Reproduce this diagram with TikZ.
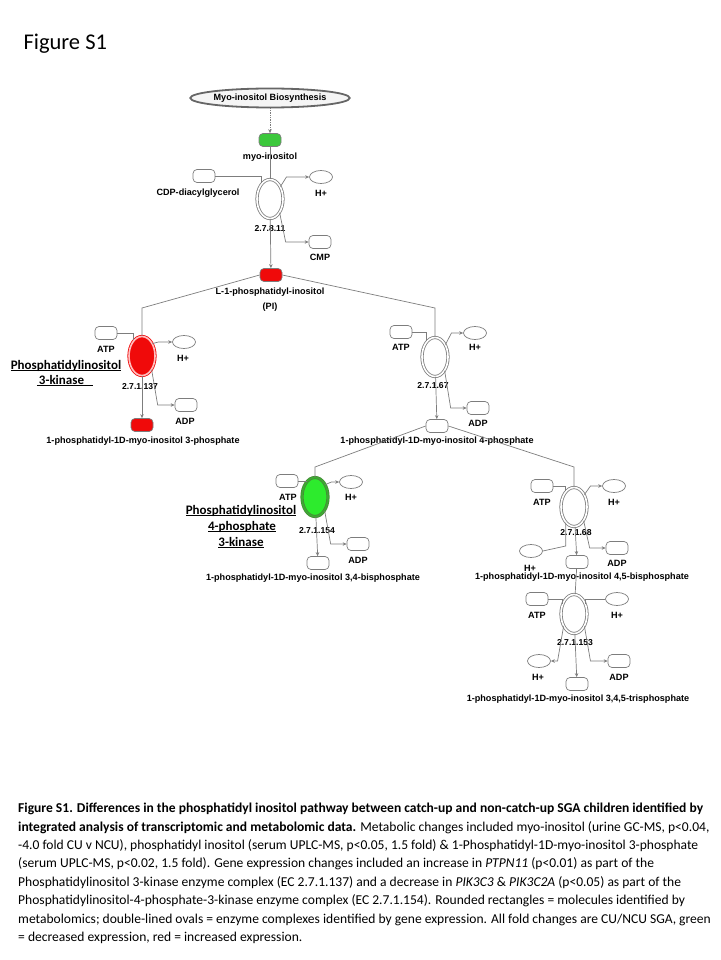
\documentclass[tikz,border=0pt]{standalone}
\usepackage{fontspec}
\setmainfont{Carlito}
\newfontfamily\arialfont{Liberation Sans}
\usetikzlibrary{shapes.geometric}
\usetikzlibrary{arrows.meta}
\definecolor{linegray}{RGB}{125,125,125}
\definecolor{molgreen}{RGB}{60,200,60}
\definecolor{molred}{RGB}{240,10,10}
\definecolor{enzgreen}{RGB}{45,235,45}
\definecolor{enzgreenring}{RGB}{70,140,55}
\tikzset{mol/.style={draw=linegray, fill=white, rectangle, rounded corners=4pt,
           minimum width=22pt, minimum height=13pt, inner sep=0pt, line width=0.7pt},
         ion/.style={draw=linegray, fill=white, ellipse,
           minimum width=23pt, minimum height=13pt, inner sep=0pt, line width=0.7pt},
         enz/.style={draw=linegray, double=white, double distance=1.6pt, ellipse,
           minimum width=26pt, minimum height=39pt, inner sep=0pt, line width=0.8pt},
         bio/.style={draw=black!60, line width=1.8pt, fill=gray!8, ellipse,
           minimum width=122pt, minimum height=19pt, inner sep=0pt,
           font=\arialfont\bfseries\fontsize{9.1}{11}\selectfont},
         lbl/.style={font=\arialfont\bfseries\fontsize{9.1}{11}\selectfont, inner sep=0pt},
         ec/.style={font=\arialfont\bfseries\fontsize{8.6}{10}\selectfont, inner sep=0pt},
         kin/.style={font=\bfseries\fontsize{13}{16}\selectfont, inner sep=0pt, anchor=base},
         conn/.style={draw=linegray, line width=0.7pt},
         arr/.style={conn, -{Stealth[length=4pt, width=3.5pt]}},
         every edge/.style={draw, arr} }

\begin{document}
\begin{tikzpicture}[x=1pt, y=-1pt]
    \useasboundingbox (0,0) rectangle (720,960);
    \node[anchor=base west, font=\fontsize{22.5}{27}\selectfont] (title) at (20,50) {Figure S1};

    \node[bio] (bio) at (270,98) {Myo-inositol Biosynthesis};
    \node[mol, fill=molgreen] (myo) at (270,140) {};
    \node[lbl] (myoL) at (270,157) {myo-inositol};
    \node[enz] (e1) at (270,199) {};
    \node[ec] (e1L) at (270,229) {2.7.8.11};
    \node[mol] (cdp) at (204,176) {};
    \node[lbl] (cdpL) at (198,193) {CDP-diacylglycerol};
    \node[ion] (h1) at (321,177) {};
    \node[lbl] (h1L) at (321,193) {H+};
    \node[mol] (cmp) at (320,242) {};
    \node[lbl] (cmpL) at (320,257) {CMP};
    \node[mol, fill=molred] (pi) at (271,275) {};
    \node[lbl] (piL) at (270,292) {L-1-phosphatidyl-inositol};
    \node[lbl] (piL2) at (270,307) {(PI)};
    \coordinate (kL) at (142,308);
    \coordinate (kR) at (435,308);

    \node[enz, draw=molred, double=red!25, fill=molred] (e2) at (142,356) {};
    \node[mol] (atp2) at (106,333) {};
    \node[lbl] (atp2L) at (106,349) {ATP};
    \node[ion] (h2) at (184,342) {};
    \node[lbl] (h2L) at (183,358) {H+};
    \node[ec] (e2L) at (140,387) {2.7.1.137};
    \node[mol] (adp2) at (186,405) {};
    \node[lbl] (adp2L) at (185,421) {ADP};
    \node[mol, fill=molred] (p3) at (142,425) {};
    \node[lbl] (p3L) at (143,441) {1-phosphatidyl-1D-myo-inositol 3-phosphate};
    \node[kin] (kin1a) at (66,369) {\underline{\smash{Phosphatidylinositol}}};
    \node[kin] (kin1b) at (65,384) {\underline{\smash{\kern2pt 3-kinase\kern9pt}}};

    \node[enz] (e3) at (435,357) {};
    \node[mol] (atp3) at (401,332) {};
    \node[lbl] (atp3L) at (401,347) {ATP};
    \node[ion] (h3) at (475,333) {};
    \node[lbl] (h3L) at (475,347) {H+};
    \node[ec] (e3L) at (433,386) {2.7.1.67};
    \node[mol] (adp3) at (478,408) {};
    \node[lbl] (adp3L) at (478,423) {ADP};
    \node[mol] (p4) at (437,426) {};
    \node[lbl] (p4L) at (437,441) {1-phosphatidyl-1D-myo-inositol 4-phosphate};
    \coordinate (k4L) at (315,467);
    \coordinate (k4R) at (574,467);

    \node[enz, draw=enzgreenring, double=enzgreenring!70!enzgreen, fill=enzgreen] (e4) at (315,497) {};
    \node[mol] (atp4) at (287,481) {};
    \node[lbl] (atp4L) at (288,497) {ATP};
    \node[ion] (h4) at (351,482) {};
    \node[lbl] (h4L) at (351,497) {H+};
    \node[ec] (e4L) at (317,531) {2.7.1.154};
    \node[mol] (adp4) at (358,544) {};
    \node[lbl] (adp4L) at (358,560) {ADP};
    \node[mol] (p34) at (318,563) {};
    \node[lbl] (p34L) at (313,578) {1-phosphatidyl-1D-myo-inositol 3,4-bisphosphate};
    \node[kin] (kin2a) at (241,514) {\underline{\smash{Phosphatidylinositol}}};
    \node[kin] (kin2b) at (242,530) {\underline{\smash{4-phosphate}}};
    \node[kin] (kin2c) at (241,546) {\underline{\smash{3-kinase}}};

    \node[enz] (e5) at (574,507) {};
    \node[mol] (atp5) at (542,486) {};
    \node[lbl] (atp5L) at (542,502) {ATP};
    \node[ion] (h5) at (614,486) {};
    \node[lbl] (h5L) at (614,502) {H+};
    \node[ec] (e5L) at (576,533) {2.7.1.68};
    \node[ion] (h5b) at (531,551) {};
    \node[lbl] (h5bL) at (530,568) {H+};
    \node[mol] (adp5) at (617,548) {};
    \node[lbl] (adp5L) at (617,563) {ADP};
    \node[mol] (p45) at (577,562) {};
    \node[lbl] (p45L) at (582,577) {1-phosphatidyl-1D-myo-inositol 4,5-bisphosphate};

    \node[enz] (e6) at (574,614) {};
    \node[mol] (atp6) at (537,599) {};
    \node[lbl] (atp6L) at (537,615) {ATP};
    \node[ion] (h6) at (617,599) {};
    \node[lbl] (h6L) at (617,615) {H+};
    \node[ec] (e6L) at (575,643) {2.7.1.153};
    \node[ion] (h6b) at (539,661) {};
    \node[lbl] (h6bL) at (538,677) {H+};
    \node[mol] (adp6) at (619,661) {};
    \node[lbl] (adp6L) at (619,677) {ADP};
    \node[mol] (p345) at (577,684) {};
    \node[lbl] (p345L) at (578,699) {1-phosphatidyl-1D-myo-inositol 3,4,5-trisphosphate};

    \draw[arr, densely dotted] (bio) -- (myo);
    \draw[conn] (myo) -- (e1);
    \draw (e1) edge (pi);
    \draw[conn] (cdp.east) -| (e1.118);
    \draw[arr] (e1.50) -- ([xshift=6pt]e1.50 |- h1.west) -- (h1.west);
    \draw[arr] (e1.-55) -- ([xshift=6pt]e1.-55 |- cmp.west) -- (cmp.west);
    \draw[conn] (pi.west) -- (kL) -- (e2);
    \draw[conn] (pi.east) -- (kR) -- (e3);

    \draw[conn] (atp2.east) -| (e2.118);
    \draw[arr] (e2.50) -- ([xshift=6pt]e2.50 |- h2.west) -- (h2.west);
    \draw[arr] (e2.-55) -- ([xshift=6pt]e2.-55 |- adp2.west) -- (adp2.west);
    \draw (e2) edge (p3);

    \draw[conn] (atp3.east) -| (e3.118);
    \draw[arr] (e3.50) -- ([xshift=6pt]e3.50 |- h3.west) -- (h3.west);
    \draw[arr] (e3.-55) -- ([xshift=6pt]e3.-55 |- adp3.west) -- (adp3.west);
    \draw (e3) edge (p4);
    \draw[conn] (p4.west) -- (k4L) -- (e4);
    \draw[conn] (p4.east) -- (k4R) -- (e5);

    \draw[conn] (atp4.east) -| (e4.118);
    \draw[arr] (e4.50) -- ([xshift=6pt]e4.50 |- h4.west) -- (h4.west);
    \draw[arr] (e4.-55) -- ([xshift=6pt]e4.-55 |- adp4.west) -- (adp4.west);
    \draw (e4) edge (p34);

    \draw[conn] (atp5.east) -| (e5.118);
    \draw[arr] (e5.50) -- ([xshift=6pt]e5.50 |- h5.west) -- (h5.west);
    \draw[conn] (h5b.east) -- ([yshift=5pt]h5b.east -| e5.-118) -- (e5.-118);
    \draw[arr] (e5.-55) -- ([xshift=6pt]e5.-55 |- adp5.west) -- (adp5.west);
    \draw (e5) edge (p45);
    \draw[conn] (p45) -- (e6);

    \draw[conn] (atp6.east) -| (e6.140);
    \draw[conn] (h6.west) -| (e6.40);
    \draw[arr] (e6.-130) -- ([xshift=-6pt]e6.-130 |- h6b.east) -- (h6b.east);
    \draw[arr] (e6.-50) -- ([xshift=6pt]e6.-50 |- adp6.west) -- (adp6.west);
    \draw (e6) edge (p345);

    \node[anchor=north west, align=left, inner sep=0pt, font=\fontsize{13.55}{18.4}\selectfont] (caption) at (18,803)
      {\textbf{Figure S1. Differences in the phosphatidyl inositol pathway between catch-up and non-catch-up SGA children identified by}\\
       \textbf{integrated analysis of transcriptomic and metabolomic data.} Metabolic changes included myo-inositol (urine GC-MS, p<0.04,\\
       -4.0 fold CU v NCU), phosphatidyl inositol (serum UPLC-MS, p<0.05, 1.5 fold) \& 1-Phosphatidyl-1D-myo-inositol 3-phosphate\\
       (serum UPLC-MS, p<0.02, 1.5 fold). Gene expression changes included an increase in \textit{PTPN11} (p<0.01) as part of the\\
       Phosphatidylinositol 3-kinase enzyme complex (EC 2.7.1.137) and a decrease in \textit{PIK3C3} \& \textit{PIK3C2A} (p<0.05) as part of the\\
       Phosphatidylinositol-4-phosphate-3-kinase enzyme complex (EC 2.7.1.154). Rounded rectangles = molecules identified by\\
       metabolomics; double-lined ovals = enzyme complexes identified by gene expression. All fold changes are CU/NCU SGA, green\\
       = decreased expression, red = increased expression.};
\end{tikzpicture}
\end{document}
